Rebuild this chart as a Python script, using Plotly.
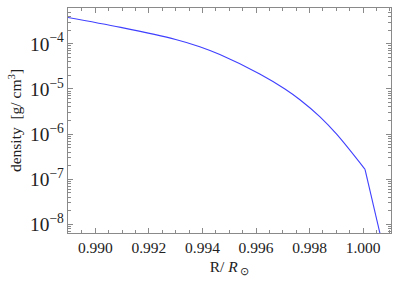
import plotly.graph_objects as go

# Data (radius in solar radii, log10 density in g/cm^3)
radius = [0.98896, 0.99095, 0.99300, 0.99390, 0.99465, 0.99614, 0.99708,
          0.99764, 0.99839, 0.99901, 1.00007, 1.00070]
log_density = [-3.416, -3.638, -3.904, -4.064, -4.238, -4.667, -5.000,
               -5.238, -5.616, -6.000, -6.778, -8.380]
density = [10 ** v for v in log_density]
kink = 10  # index of the kink (smooth part before, straight part after)

x_ticks = [0.990, 0.992, 0.994, 0.996, 0.998, 1.000]
x_tick_labels = ["0.990", "0.992", "0.994", "0.996", "0.998", "1.000"]

font = dict(family="Liberation Serif, Times New Roman, serif", size=15.5, color="#222")
axcol = "#8a8a8a"
linecol = "#3f3fff"

fig = go.Figure()
fig.add_trace(go.Scatter(x=radius[:kink + 1], y=density[:kink + 1], mode="lines",
                         line=dict(color=linecol, width=1.1, shape="spline", smoothing=1.0),
                         showlegend=False))
fig.add_trace(go.Scatter(x=radius[kink:], y=density[kink:], mode="lines",
                         line=dict(color=linecol, width=1.1),
                         showlegend=False))

fig.update_layout(
    width=394, height=281,
    margin=dict(l=68, r=3, t=8, b=48, autoexpand=False),
    paper_bgcolor="white", plot_bgcolor="white",
    font=font,
)
fig.update_xaxes(
    range=[0.98898, 1.00104], automargin=False,
    tickvals=x_ticks, ticktext=x_tick_labels,
    ticks="inside", ticklen=5, tickcolor=axcol, tickwidth=1,
    showline=True, linecolor=axcol, linewidth=1, mirror="ticks",
    showgrid=False, zeroline=False,
    minor=dict(ticks="inside", ticklen=3, dtick=0.0005, tick0=0.99, tickcolor=axcol, showgrid=False),
    title=dict(text="R/ <i>R</i><sub> ⊙</sub>", standoff=6, font=font),
    tickfont=font,
)
fig.update_yaxes(
    type="log", automargin=False,
    range=[-8.187, -3.209],
    dtick=1, exponentformat="power", showexponent="all",
    ticks="inside", ticklen=5, tickcolor=axcol, tickwidth=1,
    showline=True, linecolor=axcol, linewidth=1, mirror="ticks",
    showgrid=False, zeroline=False,
    minor=dict(ticks="inside", ticklen=3, tickcolor=axcol, showgrid=False),
    title=dict(text="density  [g/ cm<sup>3</sup>]", standoff=4, font=font),
    tickfont=font,
)

fig.write_html("out.html", config={"displayModeBar": False},
               post_script="document.body.style.margin='0';document.body.style.padding='0';")
